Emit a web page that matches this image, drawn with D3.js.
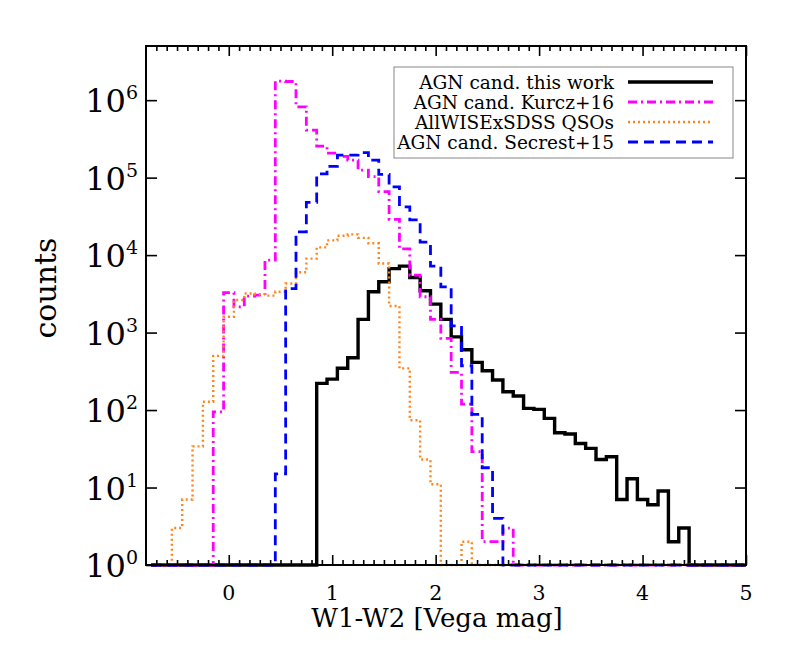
<!DOCTYPE html>
<html>
<head>
<meta charset="utf-8">
<script src="https://cdn.jsdelivr.net/npm/d3@7"></script>
<style>
  body { margin: 0; background: #fff; }
  svg { display: block; }
  text { font-family: "DejaVu Serif", serif; fill: #000; }
</style>
</head>
<body>
<svg id="chart" width="789" height="658"></svg>
<script>
// histogram bins are 0.1 mag wide, values are counts per bin
let binWidth = 0.1;

// AGN candidates, this work (first bin centred at 0.9)
let thisWorkStart = 0.9;
let thisWorkCounts = [221, 251, 346, 473, 1480, 3370, 4520, 6700, 7200, 5150, 3460, 2330,
  1480, 880, 600, 412, 321, 244, 172, 152, 105, 102, 78, 51, 49, 37, 32, 23, 25, 7, 13, 7, 6, 9, 2, 3];

// AGN candidates, Kurcz+16
let kurczStart = -0.1;
let kurczCounts = [95, 3270, 2150, 2950, 3050, 8600, 1760000, 1740000, 820000, 410000, 255000,
  207000, 188000, 168000, 125000, 103000, 66000, 29000, 12000, 5500, 2900, 1480, 840, 306, 119, 29, 2, 2, 3];

// AllWISE x SDSS QSOs
let qsoStart = -0.5;
let qsoCounts = [3, 7, 34, 128, 500, 1600, 2630, 3200, 3130, 3000, 3360, 4300, 6000, 9000, 12600,
  15500, 17800, 18500, 16700, 14200, 7800, 2200, 345, 74, 23, 11, 0, 0, 2];

// AGN candidates, Secrest+15
let secrestStart = 0.5;
let secrestCounts = [15, 3700, 20000, 48000, 112000, 140000, 195000, 195000, 210000, 168000, 110000,
  76000, 42000, 28500, 14700, 7200, 3900, 1220, 373, 88, 18, 4];

let xTicks = [0, 1, 2, 3, 4, 5];
let yTicks = [1, 10, 100, 1000, 10000, 100000, 1000000];

let series = [
  { label: "AGN cand. this work", start: thisWorkStart, counts: thisWorkCounts, color: "#000000", width: 3.4, dash: null },
  { label: "AGN cand. Kurcz+16", start: kurczStart, counts: kurczCounts, color: "#ff00ff", width: 2.8, dash: "9,4,2,4" },
  { label: "AllWISExSDSS QSOs", start: qsoStart, counts: qsoCounts, color: "#ff851a", width: 2.4, dash: "2,3" },
  { label: "AGN cand. Secrest+15", start: secrestStart, counts: secrestCounts, color: "#0000ff", width: 2.8, dash: "10,6" }
];

let plotLeft = 146, plotRight = 746, plotTop = 46, plotBottom = 565;

let svg = d3.select("#chart");

let x = d3.scaleLinear().domain([-0.8, 5]).range([plotLeft, plotRight]);
let y = d3.scaleLog().domain([1, 5e6]).range([plotBottom, plotTop]);

// clip the histograms to the frame
svg.append("clipPath").attr("id", "plotClip")
  .append("rect")
  .attr("x", plotLeft).attr("y", plotTop - 2)
  .attr("width", plotRight - plotLeft).attr("height", plotBottom - plotTop + 4);

// all bin centres across the plot, empty bins sit on the bottom axis
let centres = d3.range(58).map(function(i) { return -0.7 + i * binWidth; });

function stepPoints(s) {
  let pts = centres.map(function(c) {
    let idx = Math.round((c - s.start) / binWidth);
    let v = (idx >= 0 && idx < s.counts.length) ? s.counts[idx] : 0;
    return [c - binWidth / 2, Math.max(v, 1)];
  });
  pts.push([5.05, pts[pts.length - 1][1]]);
  return pts;
}

let line = d3.line()
  .x(function(d) { return x(d[0]); })
  .y(function(d) { return y(d[1]); })
  .curve(d3.curveStepAfter);

svg.append("g")
  .attr("clip-path", "url(#plotClip)")
  .selectAll("path")
  .data(series)
  .enter()
  .append("path")
  .attr("d", function(d) { return line(stepPoints(d)); })
  .attr("fill", "none")
  .attr("stroke", function(d) { return d.color; })
  .attr("stroke-width", function(d) { return d.width; })
  .attr("stroke-dasharray", function(d) { return d.dash; })
  .attr("stroke-linejoin", "miter");

// axes: major ticks point inward on all four sides, minor x ticks every 0.1
let minorX = d3.range(-7, 50).map(function(i) { return i / 10; })
  .filter(function(v) { return Math.abs(v - Math.round(v)) > 1e-6; });

function styleAxis(g) {
  g.select(".domain").remove();
  g.selectAll(".tick line").attr("stroke", "#000").attr("stroke-width", 1.6);
}

svg.append("g").attr("transform", "translate(0," + plotBottom + ")")
  .call(d3.axisBottom(x).tickValues(xTicks).tickSize(-10).tickFormat(""))
  .call(styleAxis);
svg.append("g").attr("transform", "translate(0," + plotBottom + ")")
  .call(d3.axisBottom(x).tickValues(minorX).tickSize(-5).tickFormat(""))
  .call(styleAxis);
svg.append("g").attr("transform", "translate(0," + plotTop + ")")
  .call(d3.axisTop(x).tickValues(xTicks).tickSize(-10).tickFormat(""))
  .call(styleAxis);
svg.append("g").attr("transform", "translate(0," + plotTop + ")")
  .call(d3.axisTop(x).tickValues(minorX).tickSize(-5).tickFormat(""))
  .call(styleAxis);
svg.append("g").attr("transform", "translate(" + plotLeft + ",0)")
  .call(d3.axisLeft(y).tickValues(yTicks).tickSize(-11).tickFormat(""))
  .call(styleAxis);
svg.append("g").attr("transform", "translate(" + plotRight + ",0)")
  .call(d3.axisRight(y).tickValues(yTicks).tickSize(-11).tickFormat(""))
  .call(styleAxis);

// frame
svg.append("rect")
  .attr("x", plotLeft).attr("y", plotTop)
  .attr("width", plotRight - plotLeft).attr("height", plotBottom - plotTop)
  .attr("fill", "none").attr("stroke", "#000").attr("stroke-width", 2);

// x tick labels
svg.append("g").selectAll("text")
  .data(xTicks)
  .enter()
  .append("text")
  .attr("x", function(d) { return x(d); })
  .attr("y", 600)
  .attr("text-anchor", "middle")
  .style("font-size", "20.5px")
  .text(function(d) { return d; });

// y tick labels, 10^n
let ylab = svg.append("g").selectAll("text")
  .data(yTicks)
  .enter()
  .append("text")
  .attr("x", 138)
  .attr("y", function(d) { return y(d) + 12; })
  .attr("text-anchor", "end")
  .style("font-size", "32px");
ylab.append("tspan").text("10");
ylab.append("tspan")
  .attr("dy", -13)
  .style("font-size", "19px")
  .text(function(d) { return Math.round(Math.log10(d)); });

// axis titles
svg.append("text")
  .attr("x", 437).attr("y", 627)
  .attr("text-anchor", "middle")
  .style("font-size", "26px")
  .text("W1-W2 [Vega mag]");

svg.append("text")
  .attr("transform", "translate(56,288) rotate(-90)")
  .attr("text-anchor", "middle")
  .style("font-size", "30px")
  .text("counts");

// legend
let legend = svg.append("g");
legend.append("rect")
  .attr("x", 394).attr("y", 67)
  .attr("width", 339).attr("height", 91)
  .attr("fill", "#fff").attr("stroke", "#888").attr("stroke-width", 1);

let rows = legend.selectAll("g.row")
  .data(series)
  .enter()
  .append("g")
  .attr("class", "row")
  .attr("transform", function(d, i) { return "translate(0," + (82 + i * 20) + ")"; });

rows.append("text")
  .attr("x", 614).attr("y", 6.5)
  .attr("text-anchor", "end")
  .style("font-size", "18.5px")
  .text(function(d) { return d.label; });

rows.append("line")
  .attr("x1", 628).attr("x2", 713)
  .attr("y1", 0).attr("y2", 0)
  .attr("stroke", function(d) { return d.color; })
  .attr("stroke-width", function(d) { return d.width; })
  .attr("stroke-dasharray", function(d) { return d.dash; });
</script>
</body>
</html>
